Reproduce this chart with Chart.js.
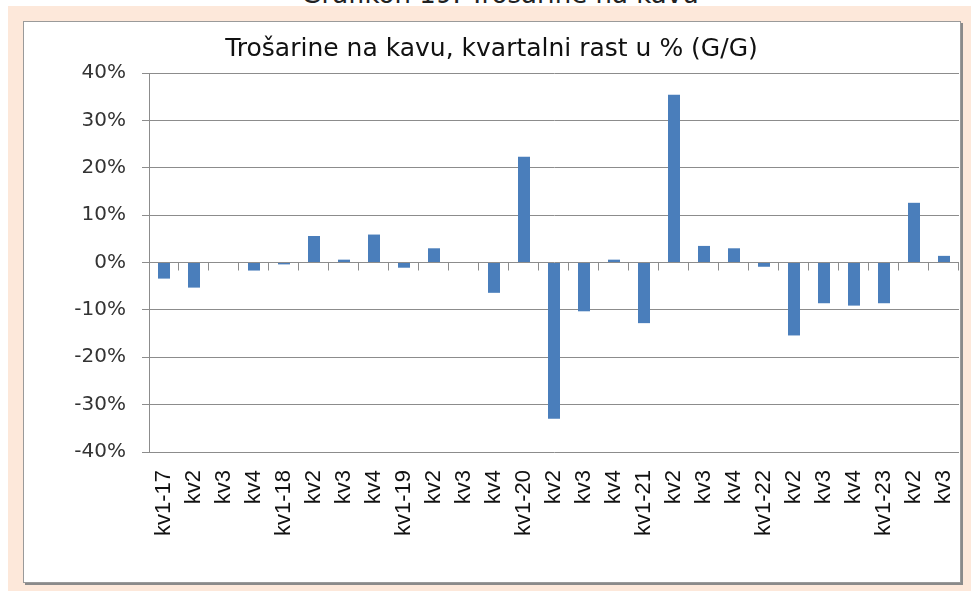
<!DOCTYPE html>
<html>
<head>
<meta charset="utf-8">
<script src="https://cdn.jsdelivr.net/npm/chart.js@4"></script>
<style>
  html, body { margin: 0; padding: 0; }
  body { width: 971px; height: 591px; position: relative; overflow: hidden; background: #ffffff; }
  .page { position: absolute; left: 8px; top: 6px; width: 963px; height: 585px; background: #fde8da; }
  .cut { position: absolute; left: 0; width: 1000px; top: -19px; text-align: center;
         font-family: "DejaVu Sans", sans-serif; font-size: 26px; color: #222; line-height: 26px; }
  .box { position: absolute; left: 23px; top: 21px; width: 936px; height: 560px; background: #fff;
         border: 1px solid #9a9a9a; box-shadow: 2px 2px 0 #8a8a8a; }
  canvas { position: absolute; left: 0; top: 0; }
</style>
</head>
<body>
<div class="cut">Grafikon 19: Trošarine na kavu</div>
<div class="page"></div>
<div class="box"><canvas id="c" width="936" height="560"></canvas></div>
<script>
// kvartali
const labels = ['kv1-17', 'kv2', 'kv3', 'kv4',
  'kv1-18', 'kv2', 'kv3', 'kv4',
  'kv1-19', 'kv2', 'kv3', 'kv4',
  'kv1-20', 'kv2', 'kv3', 'kv4',
  'kv1-21', 'kv2', 'kv3', 'kv4',
  'kv1-22', 'kv2', 'kv3', 'kv4',
  'kv1-23', 'kv2', 'kv3'];

// rast u % (G/G)
const values = [-3.4, -5.3, 0, -1.7,
  -0.4, 5.6, 0.6, 5.9,
  -1.1, 3.0, 0, -6.4,
  22.3, -33.0, -10.3, 0.6,
  -12.8, 35.4, 3.5, 3.0,
  -0.9, -15.4, -8.6, -9.1,
  -8.6, 12.6, 1.4];

const yTicks = [-40, -30, -20, -10, 0, 10, 20, 30, 40];

const axisGray = '#8c8c8c';

// male crtice na osi 0
const zeroTicks = {
  id: 'zeroTicks',
  beforeDatasetsDraw(chart) {
    const x = chart.scales.x, y = chart.scales.y;
    const ctx = chart.ctx;
    const half = (x.getPixelForValue(1) - x.getPixelForValue(0)) / 2;
    const y0 = y.getPixelForValue(0);
    ctx.save();
    ctx.strokeStyle = axisGray;
    ctx.lineWidth = 1;
    for (let i = 0; i < labels.length; i++) {
      const px = Math.round(x.getPixelForValue(i) + half) - 0.5;
      ctx.beginPath();
      ctx.moveTo(px, y0);
      ctx.lineTo(px, y0 + 8);
      ctx.stroke();
    }
    ctx.restore();
  }
};

new Chart(document.getElementById('c'), {
  type: 'bar',
  data: {
    labels: labels,
    datasets: [{
      label: 'Trošarine na kavu',
      data: values,
      backgroundColor: '#4a7ebb',
      categoryPercentage: 1,
      barPercentage: 0.4
    }]
  },
  options: {
    responsive: false,
    animation: false,
    layout: { padding: { left: 0, right: 1, top: 0, bottom: 0 } },
    plugins: {
      legend: { display: false },
      tooltip: { enabled: false },
      title: {
        display: true,
        text: 'Trošarine na kavu, kvartalni rast u % (G/G)',
        color: '#111',
        font: { family: 'DejaVu Sans', size: 25, weight: 'normal', lineHeight: 1.2 },
        padding: { top: 12, bottom: 9 }
      }
    },
    scales: {
      x: {
        grid: { display: false, drawTicks: false },
        border: { display: false },
        ticks: {
          color: '#111',
          font: { family: 'Liberation Sans', size: 22 },
          minRotation: 90,
          maxRotation: 90,
          autoSkip: false,
          padding: 18
        },
        afterFit(scale) {
          scale.height = 130;
          scale.paddingLeft = 0;
          scale.paddingRight = 0;
        }
      },
      y: {
        min: -40,
        max: 40,
        afterBuildTicks(scale) { scale.ticks = yTicks.map(v => ({ value: v })); },
        grid: { color: axisGray, lineWidth: 1, tickLength: 7 },
        border: { color: axisGray },
        ticks: {
          color: '#333',
          font: { family: 'DejaVu Sans', size: 20 },
          padding: 16,
          callback: v => v + '%'
        },
        afterFit(scale) {
          scale.width = 125;
          scale.paddingTop = 0;
          scale.paddingBottom = 0;
        }
      }
    }
  },
  plugins: [zeroTicks]
});
</script>
</body>
</html>
